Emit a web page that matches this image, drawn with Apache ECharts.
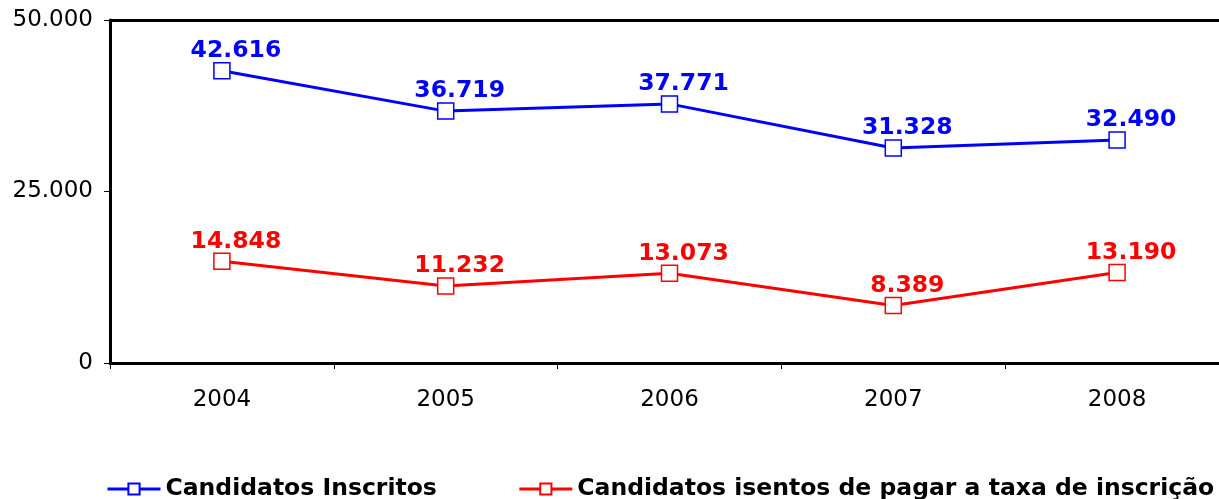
<!DOCTYPE html>
<html>
<head>
<meta charset="utf-8">
<script src="https://cdn.jsdelivr.net/npm/echarts@6/dist/echarts.min.js"></script>
<style>
  html, body { margin: 0; padding: 0; background: #fff; }
  #chart { width: 1219px; height: 499px; }
</style>
</head>
<body>
<div id="chart"></div>
<script>
var years = ['2004', '2005', '2006', '2007', '2008'];
var inscritos = [42616, 36719, 37771, 31328, 32490];
var isentos = [14848, 11232, 13073, 8389, 13190];
var yTicks = [0, 25000, 50000];

var blue = '#0000FF';
var red = '#FF0000';
var font = 'DejaVu Sans, Verdana, sans-serif';

function fmt(v) {
    return String(v).replace(/\B(?=(\d{3})+(?!\d))/g, '.');
}

function lineSeries(name, data, color) {
    return {
        name: name,
        type: 'line',
        data: data,
        symbol: 'rect',
        symbolSize: 16,
        showAllSymbol: true,
        lineStyle: { color: color, width: 3 },
        itemStyle: { color: '#FFFFFF', borderColor: color, borderWidth: 1.5 },
        label: {
            show: true,
            position: 'top',
            distance: -1,
            offset: [14, 0],
            color: color,
            fontFamily: font,
            fontWeight: 'bold',
            fontSize: 23.5,
            formatter: function (p) { return fmt(p.value); }
        },
        emphasis: { disabled: true }
    };
}

var option = {
    animation: false,
    grid: {
        left: 110, top: 20, width: 1119, bottom: 136,
        outerBoundsMode: 'none'
    },
    legend: {
        orient: 'horizontal',
        top: 472,
        left: 101,
        width: 1200,
        itemGap: 81,
        itemWidth: 53,
        itemHeight: 14,
        lineStyle: { width: 3 },
        textStyle: { fontFamily: font, fontWeight: 'bold', fontSize: 23.5, color: '#000' },
        data: ['Candidatos Inscritos', 'Candidatos isentos de pagar a taxa de inscrição']
    },
    xAxis: [{
        type: 'category',
        data: years,
        boundaryGap: true,
        axisLine: { lineStyle: { color: '#000', width: 3 } },
        axisTick: { show: true, length: 6, lineStyle: { color: '#000', width: 1 } },
        axisLabel: { color: '#000', fontFamily: font, fontSize: 23, margin: 26 }
    }, {
        // top frame line of the plot area
        type: 'category',
        data: years,
        position: 'top',
        axisLine: { show: true, lineStyle: { color: '#000', width: 3 } },
        axisTick: { show: false },
        axisLabel: { show: false }
    }],
    yAxis: {
        type: 'value',
        min: yTicks[0],
        max: yTicks[yTicks.length - 1],
        interval: 25000,
        splitLine: { show: false },
        axisLine: { show: true, lineStyle: { color: '#000', width: 3 } },
        axisTick: { show: true, length: 6, lineStyle: { color: '#000', width: 1 } },
        axisLabel: { color: '#000', fontFamily: font, fontSize: 23, margin: 17, formatter: function (v) { return v === 0 ? '0' : fmt(v); } }
    },
    series: [
        lineSeries('Candidatos Inscritos', inscritos, blue),
        lineSeries('Candidatos isentos de pagar a taxa de inscrição', isentos, red)
    ]
};

var myChart = echarts.init(document.getElementById('chart'));
myChart.setOption(option);
</script>
</body>
</html>
